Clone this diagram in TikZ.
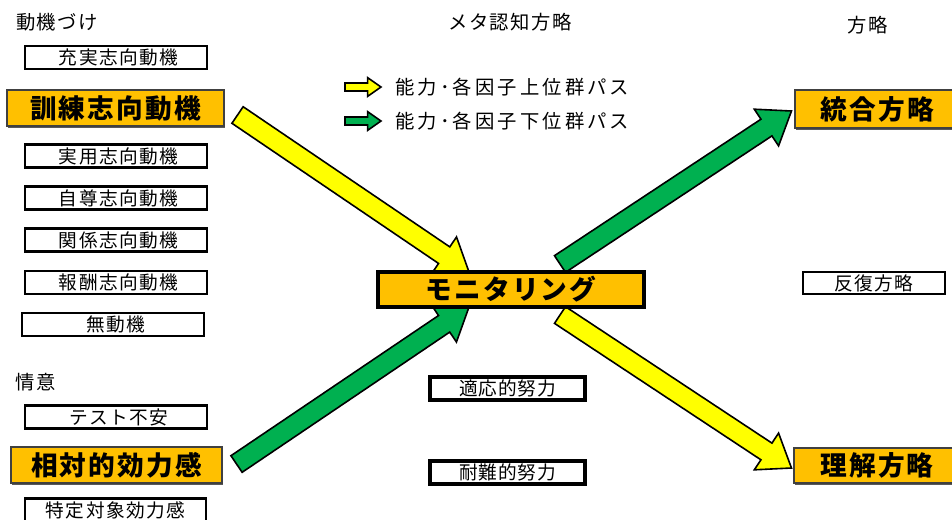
\documentclass[tikz,border=0pt]{standalone}
\usepackage{fontspec}
\setmainfont{Noto Sans CJK JP}
\usetikzlibrary{calc,shadows}
\pgfdeclarelayer{background}
\pgfsetlayers{background,main}
\definecolor{boxorange}{HTML}{FFC000}
\definecolor{arryellow}{HTML}{FFFF00}
\definecolor{arrgreen}{HTML}{00B050}
% #1 start, #2 tip, #3 colour, #4 shaft half width, #5 head half width, #6 head length
\newcommand{\blockarrow}[6]{%
  \path ($(#2)!#6!(#1)$) coordinate (bah);
  \filldraw[fill=#3, draw=black, line width=1.2pt, line join=miter]
    ($(#1)!#4!90:(#2)$) -- ($(bah)!#4!90:(#2)$) -- ($(bah)!#5!90:(#2)$) -- (#2)
    -- ($(bah)!#5!-90:(#2)$) -- ($(bah)!#4!-90:(#2)$) -- ($(#1)!#4!-90:(#2)$) -- cycle;
}
\tikzset{
  hdr/.style={font=\fontsize{14.5}{14.5}\selectfont\addfontfeature{LetterSpace=8}, inner sep=0pt},
  wbox/.style={draw=black, line width=1.8pt, fill=white, inner sep=0pt,
    minimum width=136.5pt, minimum height=17pt,
    font=\fontsize{14}{14}\selectfont\addfontfeature{LetterSpace=8}},
  obox/.style={draw=black!75, line width=0.8pt, fill=boxorange, inner sep=0pt,
    drop shadow={shadow xshift=0.8pt, shadow yshift=-1.2pt, fill=black!65, opacity=1},
    font=\fontsize{20}{20}\selectfont\bfseries\addfontfeature{LetterSpace=8}},
  effbox/.style={draw=black, line width=3pt, fill=white, inner sep=0pt,
    minimum width=116.25pt, minimum height=17.25pt,
    font=\fontsize{14}{14}\selectfont\addfontfeature{LetterSpace=4}},
  legtext/.style={anchor=west, inner sep=0pt,
    font=\fontsize{14.5}{14.5}\selectfont\addfontfeature{LetterSpace=16}}
}
\begin{document}
\begin{tikzpicture}[x=0.75pt, y=-0.75pt]
\useasboundingbox (0,0) rectangle (952,519);
% headers
\node[hdr] (h1) at (57,22) {動機づけ};
\node[hdr] (h2) at (510,22) {メタ認知方略};
\node[hdr] (h3) at (868,25) {方略};
\node[hdr] (h4) at (36,382) {情意};
% left column
\node[wbox, minimum height=17.25pt] (jujitsu) at (116,57.5) {\hspace{4pt}充実志向動機};
\node[obox, minimum width=162.75pt, minimum height=27pt] (kunren) at (115.5,108) {訓練志向動機};
\node[wbox] (jitsuyo) at (116,156) {\hspace{4pt}実用志向動機};
\node[wbox] (jison) at (116,198) {\hspace{4pt}自尊志向動機};
\node[wbox] (kankei) at (116,240) {\hspace{4pt}関係志向動機};
\node[wbox] (hoshu) at (116,282.5) {\hspace{4pt}報酬志向動機};
\node[wbox] (mudoki) at (113,324.5) {\hspace{4pt}無動機};
\node[wbox] (test) at (116,417) {\hspace{4pt}テスト不安};
\node[obox, minimum width=158.25pt, minimum height=27pt] (sotai) at (116.5,465) {相対的効力感};
\node[wbox, minimum width=135.75pt] (tokutei) at (115.5,510) {特定対象効力感};
% centre
\node[obox, draw=black, line width=3pt, minimum width=199.5pt, minimum height=26.25pt] (monitor) at (511,289.5) {モニタリング};
\node[effbox] (tekio) at (507.5,388.5) {適応的努力};
\node[effbox] (tainan) at (507.5,472) {耐難的努力};
% right column
\node[obox, minimum width=123.75pt, minimum height=28.5pt] (togo) at (877.5,109) {統合方略};
\node[wbox, minimum width=106.5pt, minimum height=16.5pt] (hanpuku) at (874,283) {反復方略};
\node[obox, minimum width=124.5pt, minimum height=26.25pt] (rikai) at (877,465.5) {理解方略};
% legend
\coordinate (ly1) at (345,87);
\coordinate (ly2) at (381,87);
\coordinate (lg1) at (345,121);
\coordinate (lg2) at (381,121);
\blockarrow{ly1}{ly2}{arryellow}{3pt}{7pt}{10pt}
\blockarrow{lg1}{lg2}{arrgreen}{3pt}{7pt}{10pt}
\node[legtext] (leg1) at (395,87) {能力･各因子上位群パス};
\node[legtext] (leg2) at (395,121) {能力･各因子下位群パス};
% big arrows
\coordinate (a1s) at ($(kunren.east)+(13,7)$);
\coordinate (a1e) at ($(monitor.north west)+(93,2)$);
\coordinate (a2s) at ($(sotai.east)+(14,-1)$);
\coordinate (a2e) at ($(monitor.south west)+(93,-2)$);
\coordinate (a3s) at ($(monitor.north east)+(-86,-6)$);
\coordinate (a3e) at ($(togo.west)+(-3,2)$);
\coordinate (a4s) at ($(monitor.south east)+(-86,6)$);
\coordinate (a4e) at ($(rikai.west)+(-2,2.5)$);
\begin{pgfonlayer}{background}
\blockarrow{a1s}{a1e}{arryellow}{7.5pt}{16.5pt}{22.5pt}
\blockarrow{a2s}{a2e}{arrgreen}{7.5pt}{16.5pt}{22.5pt}
\blockarrow{a3s}{a3e}{arrgreen}{7.5pt}{16.5pt}{22.5pt}
\blockarrow{a4s}{a4e}{arryellow}{7.5pt}{16.5pt}{22.5pt}
\end{pgfonlayer}
\end{tikzpicture}
\end{document}
